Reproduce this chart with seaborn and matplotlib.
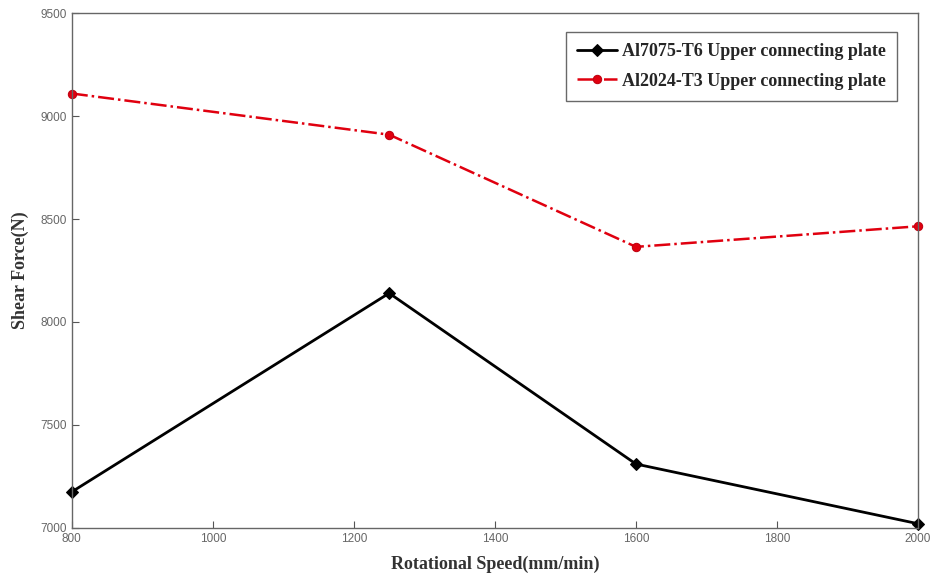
# Shear force vs rotational speed for two aluminium upper plates
import pandas as pd
import matplotlib.pyplot as plt
import seaborn as sns

speed = [800, 1250, 1600, 2000]
al7075 = [7175, 8140, 7310, 7020]
al2024 = [9110, 8910, 8365, 8465]

df = pd.DataFrame({'speed': speed, 'Al7075': al7075, 'Al2024': al2024})

sns.set_theme(style='white')
plt.rcParams['font.family'] = ['Liberation Sans', 'DejaVu Sans']

fig = plt.figure(figsize=(9.33, 5.75), dpi=100)
ax = fig.add_axes([0.077, 0.082, 0.907, 0.895])

sns.lineplot(data=df, x='speed', y='Al7075', ax=ax, color='black', linewidth=2,
             marker='D', markersize=6, markeredgecolor='black', clip_on=False,
             label='Al7075-T6 Upper connecting plate')
sns.lineplot(data=df, x='speed', y='Al2024', ax=ax, color='#e0000f', linewidth=1.8,
             linestyle='-.', marker='o', markersize=6, markeredgecolor='#c00010',
             clip_on=False, label='Al2024-T3 Upper connecting plate')

ax.set_xlim(800, 2000)
ax.set_ylim(7000, 9500)
ax.set_xticks([800, 1000, 1200, 1400, 1600, 1800, 2000])
ax.set_yticks([7000, 7500, 8000, 8500, 9000, 9500])
ax.tick_params(direction='in', length=5, width=0.8, colors='#555555',
               labelsize=8.5, labelcolor='#666666', bottom=True, left=True)
for s in ax.spines.values():
    s.set_color('#666666')
    s.set_linewidth(1.0)

ax.set_xlabel('Rotational Speed(mm/min)', family='Liberation Serif',
              fontweight='bold', fontsize=13, color='#333333', labelpad=8)
ax.set_ylabel('Shear Force(N)', family='Liberation Serif',
              fontweight='bold', fontsize=13, color='#333333', labelpad=8)

leg = ax.legend(loc='upper right', bbox_to_anchor=(0.975, 0.963), borderaxespad=0,
                prop={'family': 'Liberation Serif', 'weight': 'bold', 'size': 13},
                frameon=True, fancybox=False, edgecolor='#444444',
                handlelength=2.2, handletextpad=0.3, borderpad=0.6, labelspacing=0.7)
leg.get_frame().set_linewidth(1.0)

fig.savefig('out.png', dpi=100)
